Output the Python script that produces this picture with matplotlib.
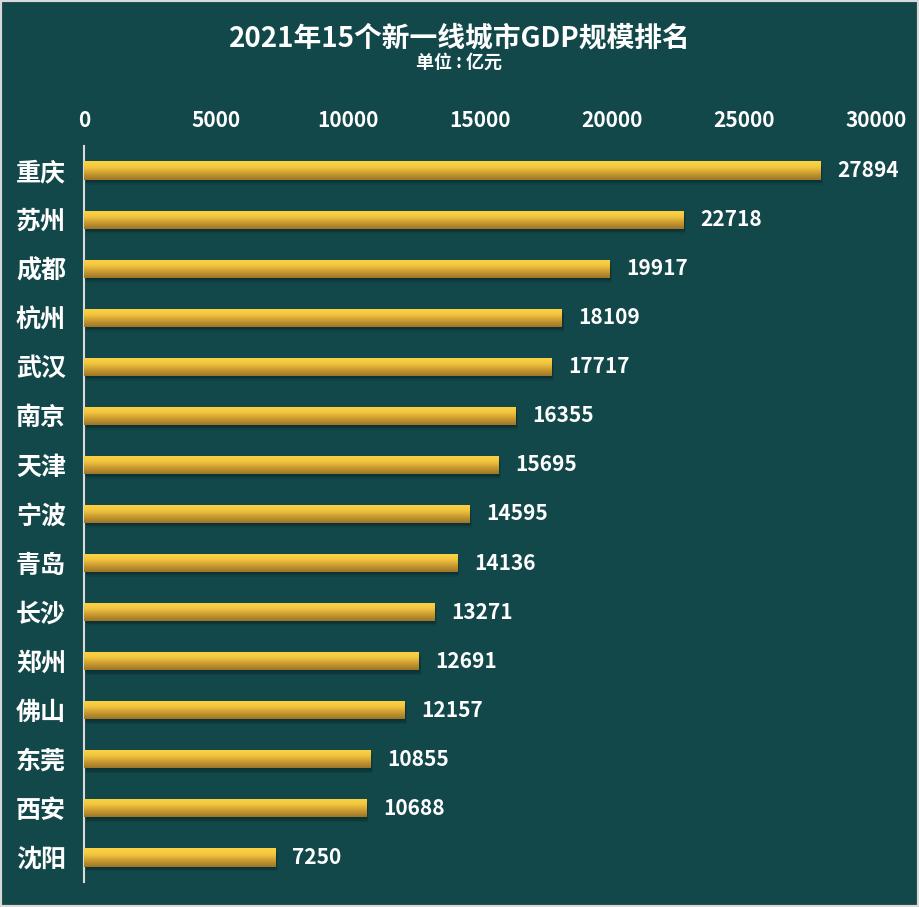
import matplotlib.pyplot as plt
import numpy as np
from matplotlib.colors import LinearSegmentedColormap
from matplotlib.patches import Rectangle

plt.rcParams['font.family'] = ['Noto Sans CJK SC', 'DejaVu Sans']

cities = ["重庆", "苏州", "成都", "杭州", "武汉", "南京", "天津", "宁波",
          "青岛", "长沙", "郑州", "佛山", "东莞", "西安", "沈阳"]
gdp = [27894, 22718, 19917, 18109, 17717, 16355, 15695, 14595,
       14136, 13271, 12691, 12157, 10855, 10688, 7250]
ticks = [0, 5000, 10000, 15000, 20000, 25000, 30000]

bg = "#13484a"
gold = LinearSegmentedColormap.from_list("gold", ["#fdd445", "#f2c53f", "#c99a30", "#9c7628"])

fig = plt.figure(figsize=(9.19, 9.07), dpi=100)
fig.patch.set_facecolor(bg)
ax = fig.add_axes([0.0914, 0.0276, 0.8616, 0.8114])
ax.set_facecolor(bg)

y = np.arange(len(cities))
h = 0.37
bars = ax.barh(y, gdp, height=h, color="none", zorder=2)
grad = np.linspace(0, 1, 64).reshape(-1, 1)
for b in bars:
    x0, y0 = b.get_x(), b.get_y()
    w, bh = b.get_width(), b.get_height()
    # soft shadow, a few stacked layers
    for k, a in [(90, 0.18), (60, 0.25), (35, 0.3)]:
        ax.add_patch(Rectangle((x0 + k, y0 + k / 900), w, bh, color="#072424",
                               alpha=a, zorder=1, lw=0))
    im = ax.imshow(grad, cmap=gold, aspect="auto", extent=(x0, x0 + w, y0 + bh, y0),
                   zorder=3, interpolation="bilinear")
    im.set_clip_path(b)
    ax.annotate(f"{b.get_width():.0f}", (x0 + w, y0 + bh / 2), xytext=(12, 0),
                textcoords="offset points", va="center", ha="left",
                color="white", fontsize=15, fontweight="bold", zorder=4)

ax.set_xlim(0, 30000)
ax.set_ylim(len(cities) - 0.5, -0.5)
ax.set_yticks(y)
ax.set_yticklabels(cities)
ax.set_xticks(ticks)
ax.xaxis.tick_top()
ax.tick_params(axis="x", length=0, pad=11, labelsize=15, colors="white")
ax.tick_params(axis="y", length=0, pad=13, labelsize=18, colors="white")
for lab in ax.get_xticklabels() + ax.get_yticklabels():
    lab.set_fontweight("bold")
for s in ["top", "right", "bottom"]:
    ax.spines[s].set_visible(False)
ax.spines["left"].set_color("#d9d9d9")
ax.spines["left"].set_linewidth(1.5)

fig.text(0.5, 0.958, "2021年15个新一线城市GDP规模排名", ha="center", va="center",
         color="white", fontsize=20, fontweight="bold")
fig.text(0.5, 0.931, "单位 : 亿元", ha="center", va="center",
         color="white", fontsize=13, fontweight="bold")

fig.add_artist(Rectangle((0, 0), 1, 1, transform=fig.transFigure, fill=False,
                         edgecolor="#d9d9d9", lw=3))

fig.savefig("out.png", dpi=100, facecolor=bg)
